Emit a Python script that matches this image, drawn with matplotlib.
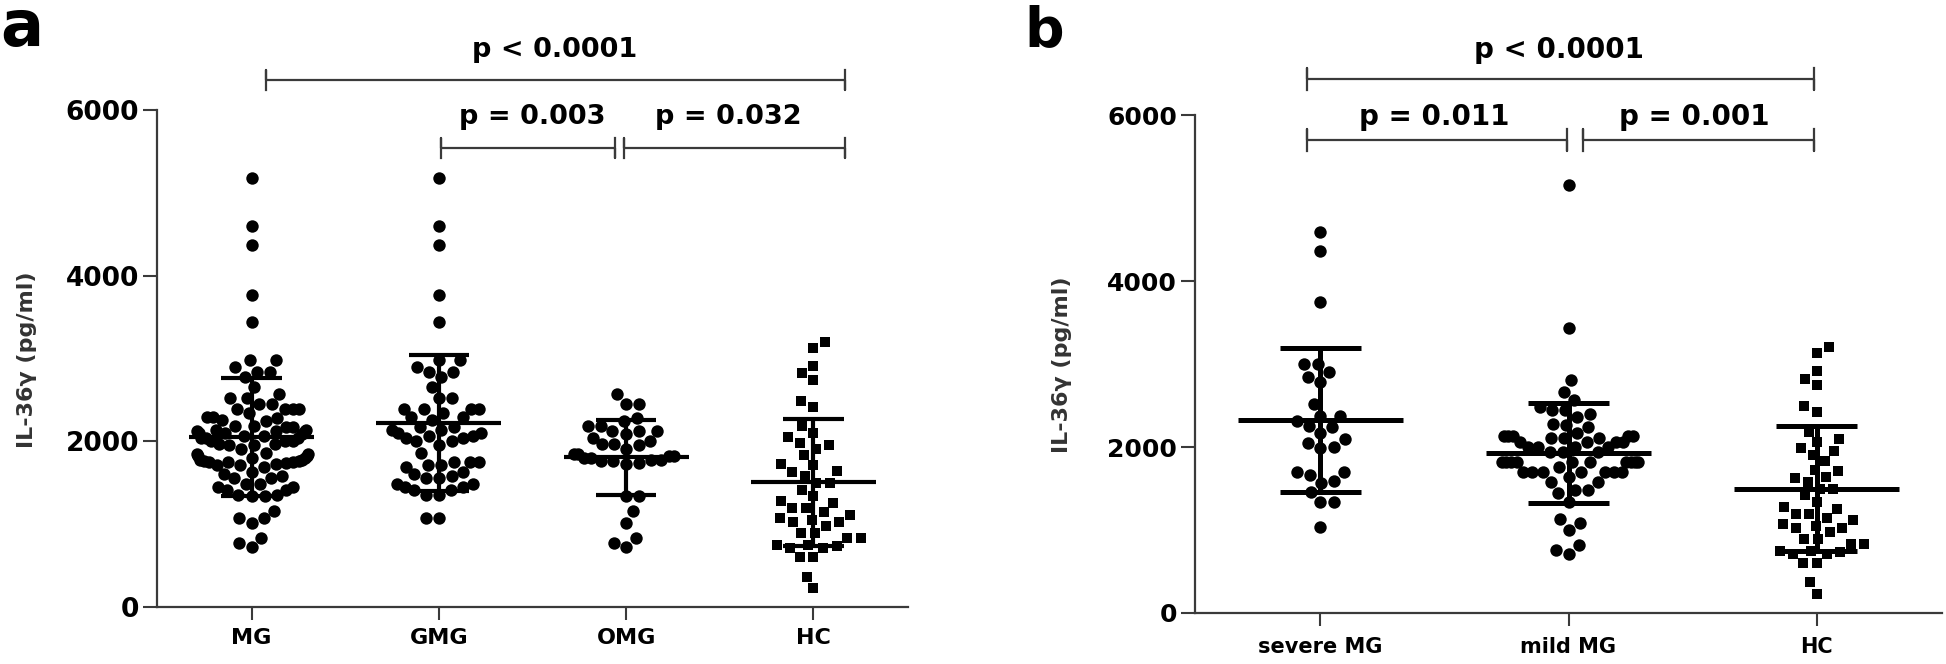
import numpy as np
import matplotlib.pyplot as plt

# IL-36γ values (pg/ml)
gmg = [5183, 4602, 4375, 3769, 3446,
       2983, 2983, 2895, 2842, 2842, 2782, 2661, 2520, 2520,
       2387, 2387, 2387, 2387, 2339, 2291, 2291, 2258, 2178, 2178,
       2140, 2140, 2100, 2100, 2070, 2070, 2040, 2040, 2000, 2000, 1960,
       1856, 1755, 1755, 1755, 1715, 1715, 1695, 1634, 1606, 1582,
       1554, 1554, 1486, 1486, 1453, 1453, 1413, 1413, 1353, 1353,
       1071, 1071]
omg = [2569, 2448, 2448, 2287, 2246, 2186, 2186, 2125, 2125, 2125,
       2085, 2044, 2004, 1963, 1963, 1951, 1903,
       1845, 1845, 1820, 1820, 1800, 1800, 1780, 1780, 1760, 1760, 1740, 1725,
       1337, 1337, 1155, 1014, 832, 772, 719]
mg = gmg + omg  # MG = all patients (GMG + OMG)
hc = [3204, 3127, 2913, 2824, 2743, 2489, 2420, 2186, 2097, 2056, 1984,
      1951, 1903, 1830, 1721, 1709, 1640, 1628, 1580, 1499, 1499, 1418,
      1340, 1277, 1256, 1196, 1196, 1143, 1115, 1075, 1054, 1022, 1022,
      974, 893, 893, 832, 832, 751, 751, 731, 711, 711, 602, 602, 368, 226]
severe_mg = [4586, 4361, 3747, 2996, 2996, 2908, 2839, 2787, 2518,
             2374, 2374, 2317, 2257, 2237, 2165, 2092, 2044, 2004, 1984,
             1703, 1703, 1663, 1590, 1562, 1454, 1341, 1341, 1040]
mild_mg = [5157, 3430, 2807, 2667, 2566, 2486, 2446, 2446, 2398, 2365,
           2277, 2265, 2237, 2165, 2133, 2133, 2133, 2133, 2133,
           2104, 2104, 2104, 2064, 2064, 2064, 2064, 2004, 2004, 2004, 2004,
           1940, 1940, 1940] + [1823] * 10 + [1763] + [1703] * 7 + \
          [1643, 1582, 1582, 1482, 1482, 1442, 1341, 1128, 1088, 1000,
           819, 759, 711]

cats_a = ['MG', 'GMG', 'OMG', 'HC']
means_a = [2050, 2226, 1805, 1505]
sds_a = [713, 820, 450, 765]
cats_b = ['severe MG', 'mild MG', 'HC']
means_b = [2325, 1927, 1495]
sds_b = [864, 607, 752]
pvals_a = ['p < 0.0001', 'p = 0.003', 'p = 0.032']
pvals_b = ['p < 0.0001', 'p = 0.011', 'p = 0.001']

W, H = 1946, 664
fig = plt.figure(figsize=(W / 100, H / 100), dpi=100)
plt.rcParams['font.family'] = 'DejaVu Sans'


def swarm(vals, ypx, xpx, d, maxw):
    # simple beeswarm: each point goes to the free spot nearest the centre,
    # then the outer points are squeezed in to the width seen in the figure
    y = np.asarray(vals, float) * ypx
    order = np.argsort(y)
    placed = []
    offs = np.zeros(len(y))
    for k, i in enumerate(order):
        cands = [0.0]
        for xj, yj in placed:
            dy = y[i] - yj
            if abs(dy) < d:
                dx = np.sqrt(d * d - dy * dy)
                cands += [xj + dx, xj - dx]
        sgn = 1 if k % 2 else -1
        cands.sort(key=lambda c: (round(abs(c), 3), sgn * c))
        for c in cands:
            if all((c - xj) ** 2 + (y[i] - yj) ** 2 >= d * d - 1e-6
                   for xj, yj in placed):
                break
        placed.append((c, y[i]))
        offs[i] = c
    if np.abs(offs).max() > maxw:
        offs = maxw * np.tanh(offs / maxw)
    return offs / xpx


def bracket(ax, x0, x1, y, h):
    ax.plot([x0, x0, x0, x1, x1, x1], [y - h, y + h, y, y, y - h, y + h],
            color='#3a3a3a', lw=1.6, clip_on=False)


def panel(rect, groups, cats, means, sds, markers, widths, lw, ticksize,
          xsize, xpad):
    ax = fig.add_axes(rect)
    n = len(cats)
    ax.set_xlim(-0.505, n - 0.495)
    ax.set_ylim(0, 6000)
    ypx = rect[3] * H / 6000
    xpx = rect[2] * W / n
    for i, (vals, m) in enumerate(zip(groups, markers)):
        off = swarm(vals, ypx, xpx, 13.5, widths[i])
        ax.scatter(i + off, vals, s=80 if m == 'o' else 62, marker=m,
                   color='black', linewidths=0, zorder=2)
        ax.hlines(means[i], i - 0.333, i + 0.333, color='black', lw=lw, zorder=3)
        ax.hlines([means[i] - sds[i], means[i] + sds[i]], i - 0.162, i + 0.162,
                  color='black', lw=lw, zorder=3)
        ax.vlines(i, means[i] - sds[i], means[i] + sds[i], color='black',
                  lw=lw, zorder=3)
    for s in ['top', 'right']:
        ax.spines[s].set_visible(False)
    for s in ['left', 'bottom']:
        ax.spines[s].set_color('#3a3a3a')
        ax.spines[s].set_linewidth(1.6)
    ax.set_yticks([0, 2000, 4000, 6000])
    ax.set_xticks(range(n))
    ax.set_xticklabels(cats, fontsize=xsize, fontweight='bold')
    ax.tick_params(axis='y', length=10, width=1.5, color='#3a3a3a', pad=3,
                   labelsize=ticksize)
    ax.tick_params(axis='x', length=9, width=1.5, color='#3a3a3a', pad=xpad)
    for t in ax.get_yticklabels():
        t.set_fontweight('bold')
    return ax


# panel a
ax1 = panel([157 / W, 1 - 607 / H, 751 / W, 497 / H],
            [mg, gmg, omg, hc], cats_a, means_a, sds_a,
            ['o', 'o', 'o', 's'], [58, 60, 60, 56], 3.0, 19, 16, 6)
bracket(ax1, 0.075, 3.167, 6365, 120)
bracket(ax1, 1.014, 1.938, 5543, 120)
bracket(ax1, 1.991, 3.167, 5543, 120)
ax1.text(1.62, 6727, pvals_a[0], ha='center', va='center', fontsize=19.5,
         fontweight='bold', clip_on=False)
ax1.text(1.498, 5918, pvals_a[1], ha='center', va='center', fontsize=19.5,
         fontweight='bold', clip_on=False)
ax1.text(2.544, 5918, pvals_a[2], ha='center', va='center', fontsize=19.5,
         fontweight='bold', clip_on=False)

# panel b
ax2 = panel([1195 / W, 1 - 613 / H, 747 / W, 498 / H],
            [severe_mg, mild_mg, hc], cats_b, means_b, sds_b,
            ['o', 'o', 's'], [38, 76, 56], 3.6, 18, 15, 8)
bracket(ax2, -0.052, 1.988, 6434, 130)
bracket(ax2, -0.052, 0.994, 5699, 130)
bracket(ax2, 1.058, 1.988, 5699, 130)
ax2.text(0.962, 6783, pvals_b[0], ha='center', va='center', fontsize=20,
         fontweight='bold', clip_on=False)
ax2.text(0.459, 5976, pvals_b[1], ha='center', va='center', fontsize=20,
         fontweight='bold', clip_on=False)
ax2.text(1.505, 5976, pvals_b[2], ha='center', va='center', fontsize=20,
         fontweight='bold', clip_on=False)

# axis titles and panel letters
fig.text(27 / W, 1 - 360 / H, 'IL-36γ (pg/ml)', rotation=90, ha='center',
         va='center', fontsize=16, fontweight='bold', color='#333333')
fig.text(1062 / W, 1 - 365 / H, 'IL-36γ (pg/ml)', rotation=90, ha='center',
         va='center', fontsize=16, fontweight='bold', color='#333333')
fig.text(0 / W, 1 - 46 / H, 'a', fontsize=46, fontweight='bold',
         ha='left', va='baseline')
fig.text(1024 / W, 1 - 46 / H, 'b', fontsize=40, fontweight='bold',
         ha='left', va='baseline')

fig.savefig('out.png', dpi=100)
